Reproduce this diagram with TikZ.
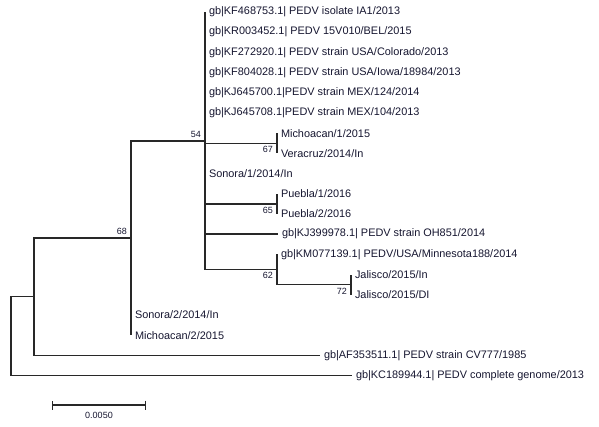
\documentclass[tikz,border=0pt]{standalone}
\usepackage{fontspec}
\setmainfont{Liberation Sans}
\usetikzlibrary{arrows.meta, positioning}
\definecolor{tipcolor}{RGB}{22,22,48}
\definecolor{branchcolor}{RGB}{40,40,40}
\tikzset{
  leafnode/.style={
    anchor=west, inner sep=0.5pt, outer sep=3.5pt,
    text=tipcolor,
    font=\fontsize{10.9}{12}\selectfont
  },
  branch/.style={draw=branchcolor, line width=1.5pt},
  bootlabel/.style={inner sep=1pt, text=tipcolor, font=\fontsize{9}{10}\selectfont},
  scalebar/.style={draw=branchcolor, line width=1.2pt, {Bar[width=9pt]}-{Bar[width=9pt]}},
  scalelabel/.style={inner sep=1pt, text=tipcolor, font=\fontsize{9}{10}\selectfont}
}

\begin{document}
\begin{tikzpicture}[x=1pt, y=-1pt]
  \useasboundingbox (0,0) rectangle (599,427);

  % Inner nodes of the tree
  \coordinate (root) at (11,336.1);
  \coordinate (nOut) at (34,296.7);
  \coordinate (n68) at (131,238);
  \coordinate (n54) at (205,140.8);
  \coordinate (n67) at (277,143.3);
  \coordinate (n65) at (277,203.9);
  \coordinate (n62) at (277,269.5);
  \coordinate (n72) at (351,284.7);

  % Leaves
  \node[leafnode] (ia1) at (205,12) {gb|KF468753.1| PEDV isolate IA1/2013};
  \node[leafnode] (bel) at (205,32.2) {gb|KR003452.1| PEDV 15V010/BEL/2015};
  \node[leafnode] (colorado) at (205,52.4) {gb|KF272920.1| PEDV strain USA/Colorado/2013};
  \node[leafnode] (iowa) at (205,72.6) {gb|KF804028.1| PEDV strain USA/Iowa/18984/2013};
  \node[leafnode] (mex124) at (205,92.8) {gb|KJ645700.1|PEDV strain MEX/124/2014};
  \node[leafnode] (mex104) at (205,113) {gb|KJ645708.1|PEDV strain MEX/104/2013};
  \node[leafnode] (mich1) at (277,133.2) {Michoacan/1/2015};
  \node[leafnode] (vera) at (277,153.4) {Veracruz/2014/In};
  \node[leafnode] (son1) at (205,173.6) {Sonora/1/2014/In};
  \node[leafnode] (pue1) at (277,193.8) {Puebla/1/2016};
  \node[leafnode] (pue2) at (277,214) {Puebla/2/2016};
  \node[leafnode] (oh851) at (278,234.2) {gb|KJ399978.1| PEDV strain OH851/2014};
  \node[leafnode] (minn) at (277,254.4) {gb|KM077139.1| PEDV/USA/Minnesota188/2014};
  \node[leafnode] (jalIn) at (351,274.6) {Jalisco/2015/In};
  \node[leafnode] (jalDI) at (351,294.8) {Jalisco/2015/DI};
  \node[leafnode] (son2) at (131,315) {Sonora/2/2014/In};
  \node[leafnode] (mich2) at (131,335.2) {Michoacan/2/2015};
  \node[leafnode] (cv777) at (320,355.4) {gb|AF353511.1| PEDV strain CV777/1985};
  \node[leafnode] (kc) at (352,375.6) {gb|KC189944.1| PEDV complete genome/2013};

  % Branches
  \draw[branch] (root) |- (nOut);
  \draw[branch] (root) |- (kc.west);
  \draw[branch] (nOut) |- (n68);
  \draw[branch] (nOut) |- (cv777.west);
  \draw[branch] (n68) |- (n54);
  \draw[branch] (n68) |- (son2.west);
  \draw[branch] (n68) |- (mich2.west);
  \foreach \leaf in {ia1,bel,colorado,iowa,mex124,mex104,son1,oh851}
    \draw[branch] (n54) |- (\leaf.west);
  \draw[branch] (n54) |- (n67);
  \draw[branch] (n54) |- (n65);
  \draw[branch] (n54) |- (n62);
  \draw[branch] (n67) |- (mich1.west);
  \draw[branch] (n67) |- (vera.west);
  \draw[branch] (n65) |- (pue1.west);
  \draw[branch] (n65) |- (pue2.west);
  \draw[branch] (n62) |- (minn.west);
  \draw[branch] (n62) |- (n72);
  \draw[branch] (n72) |- (jalIn.west);
  \draw[branch] (n72) |- (jalDI.west);

  % Bootstrap values
  \node[bootlabel, anchor=south east, xshift=-3pt, yshift=2pt] (b54) at (n54) {54};
  \node[bootlabel, anchor=south east, xshift=-3pt, yshift=2pt] (b68) at (n68) {68};
  \node[bootlabel, anchor=north east, xshift=-3pt, yshift=-2pt] (b67) at (n67) {67};
  \node[bootlabel, anchor=north east, xshift=-3pt, yshift=-2pt] (b65) at (n65) {65};
  \node[bootlabel, anchor=north east, xshift=-3pt, yshift=-2pt] (b62) at (n62) {62};
  \node[bootlabel, anchor=north east, xshift=-3pt, yshift=-2pt] (b72) at (n72) {72};

  % Scale bar
  \coordinate (sbL) at (52,405);
  \coordinate (sbR) at (146,405);
  \draw[scalebar] (sbL) -- node[scalelabel, below=6pt] (sbtext) {0.0050} (sbR);

\end{tikzpicture}
\end{document}
